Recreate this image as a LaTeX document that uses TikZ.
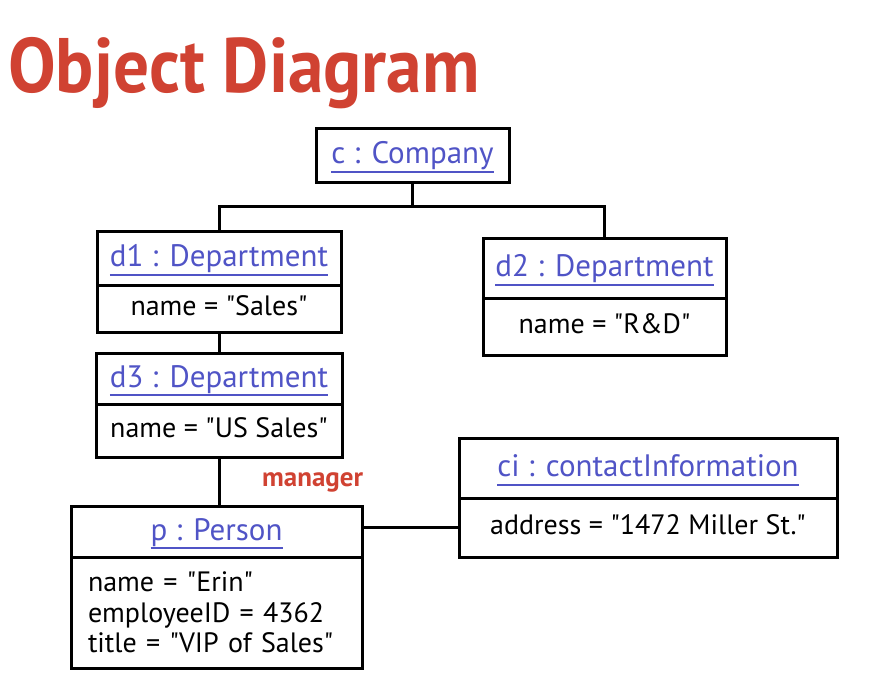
\documentclass[tikz,border=0pt]{standalone}
\usepackage{fontspec}
\setmainfont{PT Sans}
\usetikzlibrary{positioning}
\definecolor{titlered}{RGB}{208,66,50}
\definecolor{objblue}{RGB}{80,84,198}
\newcommand{\objname}[1]{\setbox0\hbox{#1}\rlap{\rule[-9pt]{\wd0}{2pt}}\box0}
\newcommand{\qt}[1]{\textquotedbl#1\textquotedbl}

\begin{document}
\begin{tikzpicture}[
        x=1pt, y=-1pt,
        objhead/.style={draw, line width=3pt, outer sep=0pt, inner sep=0pt, text=objblue,
            font=\fontsize{31}{36}\selectfont, text height=24pt, text depth=7pt},
        objattr/.style={draw, line width=3pt, outer sep=0pt, inner sep=0pt,
            font=\fontsize{28}{30}\selectfont, text height=20pt, text depth=7pt},
        attrlist/.style={draw, line width=3pt, outer sep=0pt, inner xsep=17pt, inner ysep=0pt,
            align=left, font=\fontsize{28}{30.5}\selectfont},
        link/.style={line width=3pt}
        ]
        \useasboundingbox (0,0) rectangle (869,683);
        \node[anchor=base west, text=titlered, font=\bfseries\fontsize{66}{70}\selectfont, inner sep=0pt] (title) at (8,92) {\scalebox{1.08}[1.17]{Object Diagram}};

        \node[objhead, minimum width=193pt, minimum height=54pt] (c) at (412.5,155) {\objname{c : Company}};

        \node[objhead, minimum width=244pt, minimum height=54pt] (d1) at (219,258) {\objname{d1 : Department}};
        \node[objattr, minimum width=244pt, minimum height=47pt, below=0pt of d1] (d1a) {name = \qt{Sales}};

        \node[objhead, minimum width=243pt, minimum height=60pt] (d2) at (604.5,268) {\objname{d2 : Department}};
        \node[objattr, minimum width=243pt, minimum height=57pt, below=0pt of d2] (d2a) {name = \qt{R\&D}};

        \node[objhead, minimum width=246pt, minimum height=51pt] (d3) at (219,378.5) {\objname{d3 : Department}};
        \node[objattr, minimum width=246pt, minimum height=53pt, below=0pt of d3] (d3a) {name = \qt{US Sales}};

        \node[objhead, minimum width=291pt, minimum height=51pt] (p) at (216.5,531.5) {\objname{p : Person}};
        \node[attrlist, text width=257pt, minimum height=111pt, below=0pt of p] (pa) {name = \qt{Erin}\\employeeID = 4362\\title = \qt{VIP of Sales}};

        \node[objhead, minimum width=378pt, minimum height=60pt] (ci) at (648,468) {\objname{ci : contactInformation}};
        \node[objattr, minimum width=378pt, minimum height=59pt, below=0pt of ci] (cia) {address = \qt{1472 Miller St.}};

        \node[anchor=base west, text=titlered, font=\bfseries\fontsize{27}{30}\selectfont, inner sep=0pt] (mgr) at (262,486) {manager};

        \coordinate (cj) at ([yshift=-24pt]c.south);
        \draw[link] (c.south) -- (cj) -| (d1.north);
        \draw[link] (cj) -| (d2.north);
        \draw[link] (d1a.south) -- (d3.north);
        \draw[link] (d3a.south) -- (d3a.south |- p.north);
        \draw[link] (cia.west) -- (cia.west -| p.east);
    \end{tikzpicture}
\end{document}
